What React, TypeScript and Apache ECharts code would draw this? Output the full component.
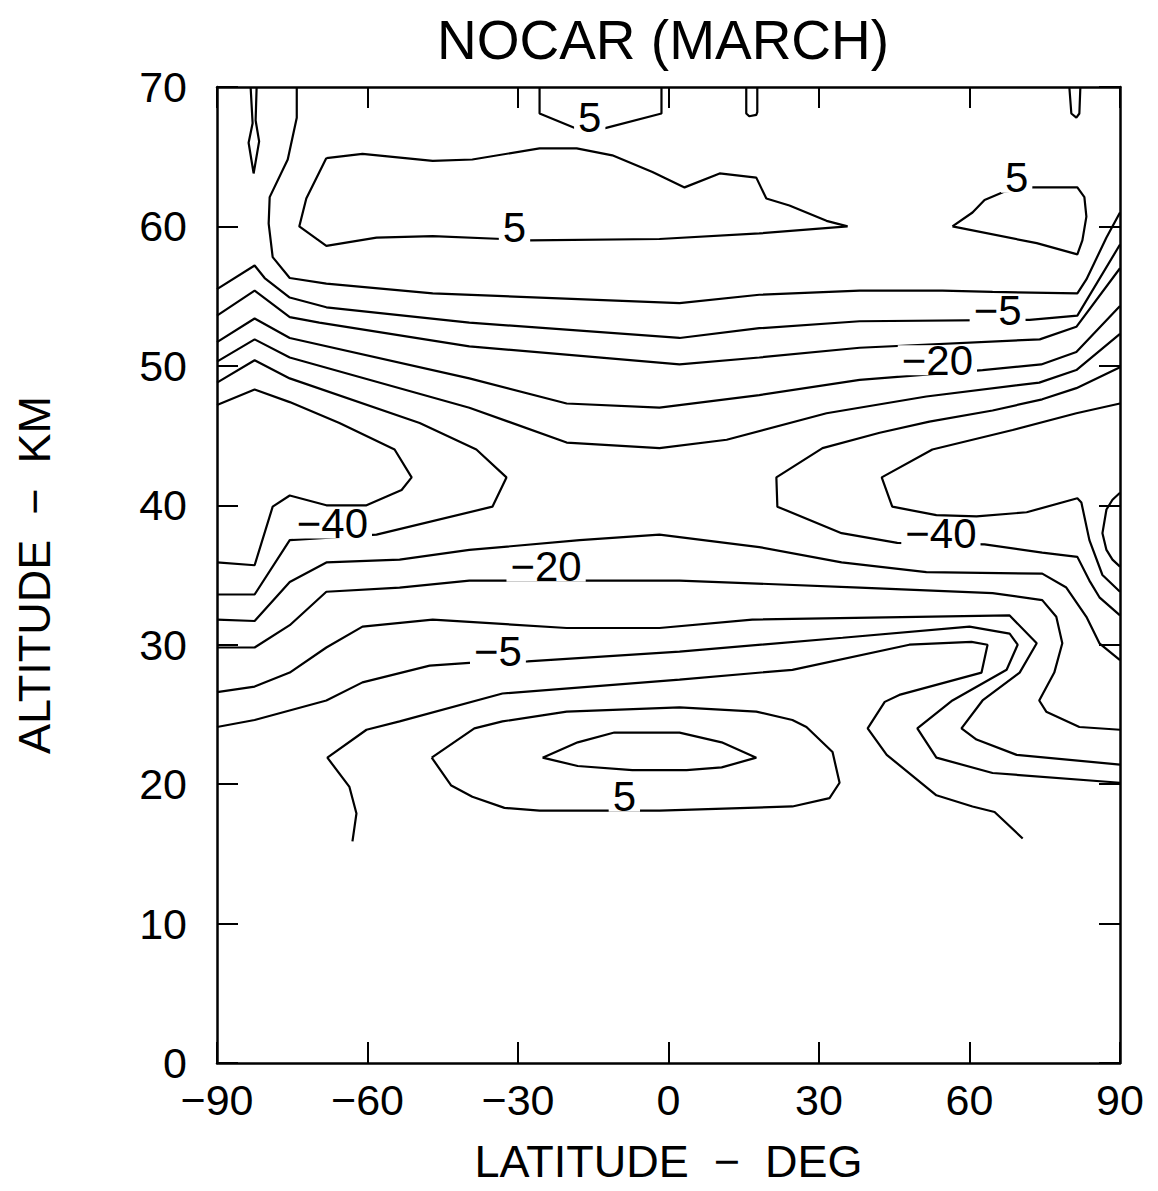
import React, { useEffect, useRef } from "react";
import * as echarts from "echarts";

// ---------- texts ----------
const chartTitle = "NOCAR (MARCH)";
const xAxisName = "LATITUDE  −  DEG";
const yAxisName = "ALTITUDE  −  KM";

// ---------- axes ----------
const latMin = -90;
const latMax = 90;
const latStep = 30;
const altMin = 0;
const altMax = 70;
const altStep = 10;

// ---------- contour lines: [latitude (deg), altitude (km)] ----------
// level +10 (inner closed loop, lower)
const c10Lower = [[-25.1,21.9],[-18.1,23.0],[-10.8,23.7],[2.2,23.7],[10.6,23.0],[17.5,21.9],[10.6,21.2],[3.6,21.0],[-7.2,21.0],[-18.1,21.3],[-25.1,21.9]];
// level +5
const c5Spindle = [[-83.3,70],[-82.9,67.4],[-83.7,66.0],[-82.7,63.8],[-81.6,66.1],[-82.3,67.6],[-82.1,70]];
const c5TopCenter = [[-25.7,70],[-25.7,68.1],[-18.3,67.0],[-15.7,66.9],[-13.2,67.0],[-1.4,68.1],[-1.4,70]];
const c5TopSmall = [[15.5,70],[15.5,68.1],[16.1,67.9],[17.5,68.0],[17.7,68.2],[17.7,70]];
const c5TopRight = [[79.9,70],[80.3,68.1],[81.3,67.8],[81.9,68.1],[82.1,70]];
const c5LeftLoop = [[-68.2,64.9],[-61.0,65.2],[-47.0,64.7],[-39.1,64.8],[-25.7,65.6],[-18.3,65.6],[-11.2,65.1],[-3.2,63.9],[3.2,62.8],[10.2,63.8],[17.5,63.5],[19.5,62.0],[24.1,61.5],[31.5,60.4],[35.7,60.0],[18.1,59.5],[-1.8,59.1],[-27.7,59.0],[-33.1,59.1],[-47.0,59.3],[-58.2,59.2],[-68.2,58.6],[-73.6,60.0],[-72.2,62.0],[-68.2,64.9]];
const c5RightLoop = [[56.6,60.0],[60.6,61.0],[63.0,61.9],[67.0,62.5],[72.6,62.8],[81.5,62.8],[82.9,62.1],[83.3,60.7],[82.5,59.0],[81.5,58.0],[73.4,58.8],[56.6,60.0]];
const c5Lower = [[-47.2,21.9],[-38.7,24.0],[-33.1,24.5],[-20.3,25.2],[2.2,25.5],[17.5,25.2],[24.7,24.6],[27.5,24.1],[32.7,22.3],[34.1,20.1],[32.1,19.0],[24.7,18.4],[-1.8,18.1],[-25.7,18.1],[-32.7,18.3],[-39.1,19.1],[-43.3,19.9],[-47.2,21.9]];
// level 0
const c0Upper = [[-74.1,70],[-74.1,67.8],[-75.9,64.8],[-79.5,62.1],[-79.7,60.2],[-78.9,57.8],[-75.5,56.3],[-68.2,55.9],[-47.0,55.2],[2.2,54.5],[18.1,55.1],[38.1,55.4],[54.6,55.4],[64.6,55.3],[81.5,55.2],[83.3,56.2],[87.3,59.2],[90,61.0]];
const c0Lower = [[-63.0,15.9],[-62.2,17.9],[-63.6,19.8],[-68.0,21.9],[-60.2,23.9],[-53.6,24.5],[-33.1,26.5],[2.2,27.5],[24.7,28.2],[48.0,30.0],[60.4,30.2],[63.6,30.0],[62.4,28.0],[46.0,26.4],[43.1,25.9],[39.7,24.0],[43.5,22.1],[53.4,19.2],[60.6,18.4],[65.0,18.0],[70.6,16.1]];
// level -5
const cm5Upper = [[-90,55.5],[-82.5,57.2],[-80.5,56.3],[-75.5,54.9],[-68.2,54.2],[-39.7,53.1],[2.2,52.0],[18.1,52.7],[38.1,53.2],[72.0,53.3],[81.5,53.6],[90,58.7]];
const cm5Lower = [[-90,24.1],[-82.5,24.6],[-68.2,26.0],[-61.0,27.3],[-47.6,28.5],[-39.7,28.7],[-28.1,28.8],[2.2,29.5],[34.7,30.5],[60.0,31.3],[68.0,30.8],[69.6,30.0],[67.4,28.2],[56.6,26.0],[49.6,24.0],[53.4,21.9],[64.6,20.8],[90,20.1]];
// level -10
const cm10Upper = [[-90,53.6],[-82.5,55.4],[-75.5,53.5],[-69.6,53.1],[-39.7,51.4],[2.2,50.1],[18.1,50.6],[38.1,51.3],[74.0,51.9],[81.3,52.8],[90,57.0]];
const cm10Lower = [[-90,26.6],[-82.5,27.0],[-75.5,28.0],[-68.2,29.8],[-61.0,31.3],[-47.0,31.8],[-20.3,31.2],[-1.8,31.2],[16.7,31.8],[68.0,32.1],[73.4,30.1],[70.0,28.0],[62.6,26.0],[58.4,24.0],[61.4,23.2],[69.4,22.1],[90,21.4]];
// level -20
const cm20Upper = [[-90,51.7],[-82.5,53.4],[-75.5,52.0],[-39.7,49.1],[-20.3,47.3],[-1.8,47.0],[18.1,47.9],[38.1,49.0],[62.6,49.7],[74.3,50.1],[81.3,51.0],[90,54.3]];
const cm20Lower = [[-90,29.8],[-82.5,29.8],[-75.5,31.4],[-68.2,33.8],[-53.6,34.1],[-39.7,34.6],[-32.3,34.6],[2.2,34.6],[38.1,34.1],[64.6,33.7],[74.5,33.2],[77.3,32.0],[78.5,30.1],[76.9,28.0],[73.9,26.0],[75.3,25.2],[81.9,24.1],[90,23.9]];
// level -30
const cm30Upper = [[-90,50.3],[-82.5,51.9],[-75.5,50.6],[-39.7,47.0],[-20.3,44.5],[-1.8,44.1],[11.6,44.7],[31.5,46.6],[51.4,47.8],[73.9,48.8],[81.3,49.7],[90,52.3]];
const cm30Lower = [[-90,31.8],[-82.5,31.7],[-75.5,34.5],[-68.2,35.9],[-53.6,36.1],[-39.7,36.8],[-17.7,37.5],[-1.8,37.9],[18.1,37.0],[34.5,35.9],[51.4,35.2],[74.5,35.1],[79.3,34.1],[83.3,32.0],[85.9,30.1],[90,28.9]];
// level -40
const cm40Left = [[-90,48.8],[-82.5,50.4],[-75.5,49.1],[-49.6,45.9],[-38.3,44.0],[-32.3,42.0],[-35.1,39.9],[-58.2,37.9],[-75.5,37.5],[-82.5,33.6],[-90,33.6]];
const cm40Right = [[90,49.9],[81.3,48.4],[74.5,47.6],[64.6,46.8],[52.0,46.0],[42.1,45.2],[30.7,44.1],[21.5,42.0],[21.7,39.9],[34.5,38.0],[45.6,37.3],[63.0,37.2],[74.5,36.6],[81.5,36.3],[83.9,34.6],[85.9,33.4],[90,32.1]];
// level -50
const cm50Left = [[-90,47.2],[-82.5,48.3],[-75.5,47.4],[-65.6,45.9],[-54.6,44.0],[-51.2,42.0],[-53.2,41.1],[-60.2,40.0],[-68.2,40.0],[-75.5,40.7],[-78.9,39.9],[-82.5,35.7],[-90,35.9]];
const cm50Right = [[90,47.3],[81.3,46.6],[68.6,45.4],[52.6,44.0],[42.5,42.0],[44.6,39.9],[53.4,39.3],[61.4,39.2],[71.4,39.5],[81.5,40.5],[82.3,40.2],[83.9,37.5],[86.5,35.0],[90,33.8]];
// level -60
const cm60Right = [[90,40.9],[88.5,40.4],[87.3,39.7],[86.5,38.0],[87.3,36.8],[88.5,36.1],[90,35.6]];

const contourLines = [
  c10Lower, c5Spindle, c5TopCenter, c5TopSmall, c5TopRight, c5LeftLoop, c5RightLoop, c5Lower,
  c0Upper, c0Lower, cm5Upper, cm5Lower, cm10Upper, cm10Lower, cm20Upper, cm20Lower,
  cm30Upper, cm30Lower, cm40Left, cm40Right, cm50Left, cm50Right, cm60Right,
];

// contour labels: [latitude, altitude, text]
const contourLabels = [
  [-15.7, 67.8, "5"],
  [-30.7, 59.9, "5"],
  [69.4, 63.5, "5"],
  [65.6, 54.0, "−5"],
  [53.6, 50.4, "−20"],
  [-67.0, 38.7, "−40"],
  [54.3, 38.0, "−40"],
  [-24.4, 35.6, "−20"],
  [-34.0, 29.5, "−5"],
  [-8.8, 19.1, "5"],
];

const FONT = "'Liberation Sans', Arial, sans-serif";

const fmt = (v: number) => (v < 0 ? "−" + Math.abs(v) : String(v));

export default function App() {
  const ref = useRef<HTMLDivElement>(null);
  useEffect(() => {
    if (!ref.current) return;
    const chart = echarts.init(ref.current, null, { renderer: "svg" });
    const axisLine = { show: true, onZero: false, lineStyle: { color: "#000", width: 2.5 } };
    const tick = { show: true, inside: true, length: 21, lineStyle: { color: "#000", width: 2 } };
    const xBase = { type: "value", min: latMin, max: latMax, interval: latStep, splitLine: { show: false }, axisLine, axisTick: tick };
    const yBase = { type: "value", min: altMin, max: altMax, interval: altStep, splitLine: { show: false }, axisLine, axisTick: tick };
    chart.setOption({
      animation: false,
      backgroundColor: "#fff",
      grid: { left: 217, top: 87, width: 903, height: 976, containLabel: false },
      xAxis: [
        {
          ...xBase,
          position: "bottom",
          axisLabel: { color: "#000", fontSize: 43, fontFamily: FONT, margin: 15, formatter: fmt },
          name: xAxisName,
          nameLocation: "middle",
          nameGap: 76,
          nameTextStyle: { color: "#000", fontSize: 45, fontFamily: FONT },
        },
        { ...xBase, position: "top", axisLabel: { show: false } },
      ],
      yAxis: [
        {
          ...yBase,
          position: "left",
          axisLabel: { color: "#000", fontSize: 43, fontFamily: FONT, margin: 30, formatter: fmt },
          name: yAxisName,
          nameLocation: "middle",
          nameRotate: 90,
          nameGap: 160,
          nameTextStyle: { color: "#000", fontSize: 45, fontFamily: FONT },
        },
        { ...yBase, position: "right", axisLabel: { show: false } },
      ],
      graphic: [
        {
          type: "text",
          x: 663,
          y: 12,
          style: { text: chartTitle, fontSize: 55, fontFamily: FONT, fill: "#000", align: "center", verticalAlign: "top" },
        },
      ],
      series: [
        ...contourLines.map((pts) => ({
          type: "line",
          data: pts,
          xAxisIndex: 0,
          yAxisIndex: 0,
          symbol: "none",
          silent: true,
          z: 2,
          lineStyle: { color: "#000", width: 2.2 },
        })),
        {
          type: "scatter",
          data: contourLabels,
          xAxisIndex: 0,
          yAxisIndex: 0,
          symbolSize: 1,
          itemStyle: { color: "#fff", opacity: 1 },
          silent: true,
          z: 5,
          label: {
            show: true,
            position: "inside",
            formatter: (p: any) => p.data[2],
            color: "#000",
            opacity: 1,
            textBorderWidth: 0,
            fontSize: 42,
            fontFamily: FONT,
            backgroundColor: "#ffffff",
            padding: [0, 4],
            lineHeight: 30,
          },
        },
      ],
    });
    return () => chart.dispose();
  }, []);
  return <div ref={ref} style={{ position: "absolute", left: 0, top: 0, width: 1158, height: 1191 }} />;
}
